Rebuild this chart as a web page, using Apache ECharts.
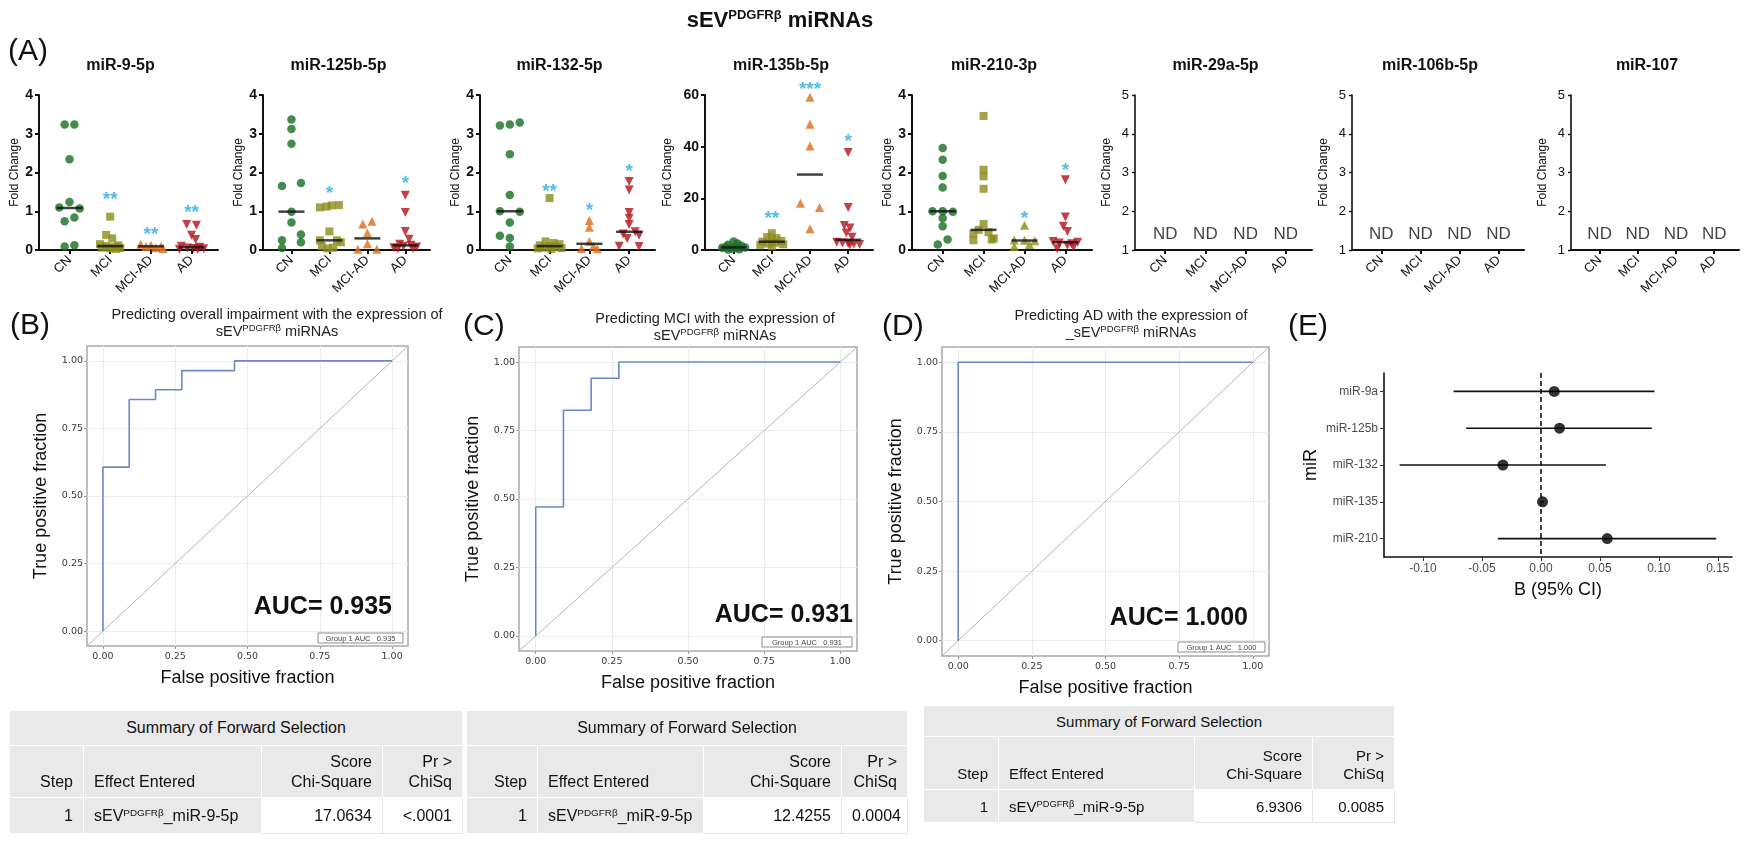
<!DOCTYPE html>
<html>
<head>
<meta charset="utf-8">
<script src="https://cdn.jsdelivr.net/npm/echarts@6.0.0/dist/echarts.min.js"></script>
<style>
body { margin: 0; background: #fff; overflow: hidden; }
#chart { position: absolute; left: 0; top: 0; width: 1744px; height: 842px; }
table.fs { position: absolute; border-collapse: collapse; table-layout: fixed; color: #111; border: 1px solid #dadada; }
table.fs td { background: #e9e9e9; border: 1px solid #fff; padding: 0 10px; white-space: nowrap; overflow: hidden; }
table.fs td.w { background: #fff; border-color: #e4e4e4; }
table.fs td.c { text-align: center; }
table.fs td.r { text-align: right; }
table.fs tr.hd td { vertical-align: bottom; padding-bottom: 5px; line-height: 1.25; }
table.fs sup { font-size: 62%; vertical-align: 0.55em; line-height: 0; }
</style>
</head>
<body>
<div id="chart"></div>
<script>
// ---------- data ----------
const groups = ['CN', 'MCI', 'MCI-AD', 'AD'];
const panelTitles = ['miR-9-5p', 'miR-125b-5p', 'miR-132-5p', 'miR-135b-5p', 'miR-210-3p', 'miR-29a-5p', 'miR-106b-5p', 'miR-107'];

// miR-9-5p
const mir9CN = [3.24, 3.24, 2.34, 1.24, 1.10, 1.07, 0.84, 0.74, 0.12, 0.09];
const mir9CNx = [-0.12, 0.12, 0, 0, -0.25, 0.25, 0.12, -0.12, 0.12, -0.12];
const mir9MCI = [0.86, 0.39, 0.30, 0.15, 0.12, 0.10, 0.08, 0.06, 0.05, 0.04, 0.03];
const mir9MCIx = [0, -0.1, 0.05, -0.25, 0.2, -0.1, 0.1, -0.2, 0.25, 0, 0.15];
const mir9MCIAD = [0.15, 0.12, 0.10, 0.09, 0.06, 0.04];
const mir9MCIADx = [-0.25, 0, 0.25, -0.12, 0.12, 0.3];
const mir9AD = [0.66, 0.64, 0.38, 0.27, 0.10, 0.07, 0.05, 0.04, 0.03, 0.02, 0.02];
const mir9ADx = [-0.12, 0.12, 0, 0.1, -0.25, 0.2, -0.1, 0.05, 0.3, -0.3, 0.15];
const mir9Stars = ['', '**', '**', '**'];
const mir9StarY = [0, 1.41, 0.5, 1.06];

// miR-125b-5p
const mir125CN = [3.37, 3.12, 2.74, 1.73, 1.65, 0.99, 0.71, 0.40, 0.25, 0.20, 0.05];
const mir125CNx = [0, 0, 0, 0.25, -0.25, 0, 0, 0.25, -0.25, 0.25, -0.25];
const mir125MCI = [1.16, 1.15, 1.12, 1.10, 0.48, 0.25, 0.25, 0.20, 0.10, 0.06, 0.04];
const mir125MCIx = [0.25, 0.06, -0.08, -0.25, 0, -0.25, 0.2, 0.3, -0.2, 0.1, -0.05];
const mir125MCIAD = [0.74, 0.67, 0.44, 0.16, 0.02, 0.02];
const mir125MCIADx = [0.12, -0.12, 0, 0, -0.25, 0.25];
const mir125AD = [1.41, 0.97, 0.48, 0.28, 0.15, 0.12, 0.10, 0.08, 0.06, 0.04, 0.03];
const mir125ADx = [0, 0, 0, 0.1, -0.15, 0.15, -0.05, 0.3, -0.3, 0.2, -0.2];
const mir125Stars = ['', '*', '', '*'];
const mir125StarY = [0, 1.55, 0, 1.81];

// miR-132-5p
const mir132CN = [3.29, 3.24, 3.21, 2.47, 1.42, 1.00, 0.99, 0.71, 0.37, 0.31, 0.09];
const mir132CNx = [0.25, 0, -0.25, 0, 0, -0.25, 0.25, 0, -0.25, 0, 0];
const mir132MCI = [1.34, 0.22, 0.18, 0.15, 0.12, 0.10, 0.08, 0.06, 0.05, 0.04, 0.03];
const mir132MCIx = [0, -0.1, 0.1, 0.25, -0.25, 0, 0.15, -0.15, 0.3, -0.3, 0.05];
const mir132MCIAD = [0.76, 0.59, 0.22, 0.10, 0.04, 0.03];
const mir132MCIADx = [0, 0, 0, 0.1, -0.2, 0.2];
const mir132AD = [1.77, 1.55, 0.97, 0.82, 0.66, 0.47, 0.41, 0.38, 0.30, 0.10, 0.09];
const mir132ADx = [0, 0, 0, 0, 0, 0.15, -0.15, 0.25, -0.05, -0.25, 0.25];
const mir132Stars = ['', '**', '*', '*'];
const mir132StarY = [0, 1.61, 1.12, 2.11];

// miR-135b-5p
const mir135CN = [3.3, 2.5, 2.0, 1.6, 1.2, 1.0, 0.9, 0.8, 0.5, 0.3, 0.2];
const mir135CNx = [0, 0.1, -0.15, 0.2, -0.2, 0.3, -0.3, 0.05, -0.05, 0.15, -0.15];
const mir135MCI = [6.5, 5.0, 4.6, 4.0, 3.5, 3.2, 2.8, 2.5, 2.2, 2.0, 1.5];
const mir135MCIx = [0, -0.12, 0.12, 0, 0.25, -0.25, 0.1, -0.1, 0.3, -0.3, 0];
const mir135MCIAD = [59.1, 48.7, 40.3, 18.1, 16.5, 8.2];
const mir135MCIADx = [0, 0, 0, -0.25, 0.25, 0];
const mir135AD = [37.7, 16.5, 9.5, 8.5, 6.6, 4.9, 3.0, 2.7, 2.5, 2.3, 2.1, 2.0];
const mir135ADx = [0, 0, -0.1, 0.05, -0.05, 0.1, -0.3, -0.15, 0, 0.15, 0.3, 0.05];
const mir135Stars = ['', '**', '***', '*'];
const mir135StarY = [0, 13.6, 63.4, 43.6];

// miR-210-3p
const mir210CN = [2.63, 2.33, 1.91, 1.61, 1.00, 1.00, 0.99, 0.82, 0.61, 0.27, 0.14];
const mir210CNx = [0, 0, 0, 0, -0.25, 0, 0.25, 0, 0, 0.12, -0.12];
const mir210MCI = [3.46, 2.07, 1.90, 1.58, 0.67, 0.52, 0.46, 0.42, 0.30, 0.27, 0.25];
const mir210MCIx = [0, 0, 0, 0, 0, -0.12, 0.12, -0.25, 0.25, 0.2, -0.25];
const mir210MCIAD = [0.64, 0.26, 0.25, 0.24, 0.14, 0.09];
const mir210MCIADx = [0, -0.25, 0, 0.25, 0.12, -0.25];
const mir210AD = [1.81, 0.85, 0.61, 0.48, 0.22, 0.20, 0.18, 0.16, 0.12, 0.08, 0.03];
const mir210ADx = [0, 0, -0.05, 0.05, -0.3, 0.3, -0.15, 0.15, 0.05, 0.2, -0.2];
const mir210Stars = ['', '', '*', '*'];
const mir210StarY = [0, 0, 0.91, 2.14];

// not detected panels
const ndLabels = ['ND', 'ND', 'ND', 'ND'];
const ndY = 1.41;

// ROC curves (corner points)
const rocB_fpr = [0, 0, 0.091, 0.182, 0.273, 0.455, 1];
const rocB_tpr = [0, 0.607, 0.857, 0.893, 0.964, 1, 1];
const rocC_fpr = [0, 0, 0.091, 0.182, 0.273, 1];
const rocC_tpr = [0, 0.471, 0.824, 0.941, 1, 1];
const rocD_fpr = [0, 0, 1];
const rocD_tpr = [0, 1, 1];
const aucValues = ['0.935', '0.931', '1.000'];
const rocTicks = [0, 0.25, 0.5, 0.75, 1];

// forest plot
const eLabels = ['miR-9a', 'miR-125b', 'miR-132', 'miR-135', 'miR-210'];
const eEst = [0.0113, 0.0158, -0.0322, 0.0014, 0.0562];
const eLow = [-0.074, -0.0633, -0.1198, 0.0004, -0.0365];
const eHigh = [0.0963, 0.094, 0.0551, 0.0024, 0.1486];
const eTicks = [-0.10, -0.05, 0, 0.05, 0.10, 0.15];

// forward selection tables
const fsSteps = ['1', '1', '1'];
const fsEffect = ['miR-9-5p', 'miR-9-5p', 'miR-9-5p'];
const fsScores = ['17.0634', '12.4255', '6.9306'];
const fsPvals = ['<.0001', '0.0004', '0.0085'];

// ---------- layout / style ----------
const FONT = 'Liberation Sans, Arial, sans-serif';
const colCN = '#166e20', colMCI = '#8a8c18', colMCIAD = '#dc6c1c', colAD = '#b41018', colStar = '#29abe2';
const aLeft = [39, 263, 480, 705, 912, 1135, 1352, 1571];
const aWidth = [179, 167, 175, 168, 180, 177, 172, 168];

const dotVals = [
  [mir9CN, mir9MCI, mir9MCIAD, mir9AD],
  [mir125CN, mir125MCI, mir125MCIAD, mir125AD],
  [mir132CN, mir132MCI, mir132MCIAD, mir132AD],
  [mir135CN, mir135MCI, mir135MCIAD, mir135AD],
  [mir210CN, mir210MCI, mir210MCIAD, mir210AD]
];
const dotDx = [
  [mir9CNx, mir9MCIx, mir9MCIADx, mir9ADx],
  [mir125CNx, mir125MCIx, mir125MCIADx, mir125ADx],
  [mir132CNx, mir132MCIx, mir132MCIADx, mir132ADx],
  [mir135CNx, mir135MCIx, mir135MCIADx, mir135ADx],
  [mir210CNx, mir210MCIx, mir210MCIADx, mir210ADx]
];
const starTxt = [mir9Stars, mir125Stars, mir132Stars, mir135Stars, mir210Stars];
const starY = [mir9StarY, mir125StarY, mir132StarY, mir135StarY, mir210StarY];
const dotColors = [
  [colCN, colMCI, colMCIAD, colAD],
  [colCN, colMCI, colMCIAD, colAD],
  [colCN, colMCI, colMCIAD, colAD],
  [colCN, colMCI, colMCIAD, colAD],
  [colCN, colMCI, colMCI, colAD]
];

function median(a) {
  const s = a.slice().sort((x, y) => x - y);
  const m = s.length >> 1;
  return s.length % 2 ? s[m] : (s[m - 1] + s[m]) / 2;
}

function txt(x, y, text, size, opts) {
  opts = opts || {};
  return {
    type: 'text', x: x, y: y, silent: true, z: 10,
    style: Object.assign({
      text: text, fontSize: size, fontFamily: FONT, fontWeight: opts.bold ? 'bold' : 'normal',
      fill: opts.color || '#111',
      align: opts.align || 'center', textAlign: opts.align || 'center',
      verticalAlign: 'middle', textVerticalAlign: 'middle'
    }, opts.rich ? { rich: opts.rich } : {})
  };
}

const grids = [], xAxes = [], yAxes = [], series = [], graphics = [];

// ---------- panel A ----------
for (let i = 0; i < 8; i++) {
  const nd = i >= 5;
  grids.push({ left: aLeft[i], top: 95, width: aWidth[i], height: 155, outerBoundsMode: 'none' });
  xAxes.push({
    gridIndex: i, type: 'value', min: -0.75, max: 3.65,
    axisLine: { show: true, onZero: false, lineStyle: { color: '#111', width: 2 } },
    axisTick: { show: true, length: 4, customValues: [0, 1, 2, 3], lineStyle: { color: '#111', width: 2 } },
    axisLabel: { customValues: [0, 1, 2, 3], formatter: v => groups[Math.round(v)], rotate: 45, fontSize: 13, color: '#111', margin: 8, fontFamily: FONT },
    splitLine: { show: false }
  });
  yAxes.push({
    gridIndex: i, type: 'value', min: nd ? 1 : 0, max: i === 3 ? 60 : (nd ? 5 : 4), interval: i === 3 ? 20 : 1,
    name: 'Fold Change', nameLocation: 'middle', nameGap: nd ? 22 : (i === 3 ? 31 : 18),
    nameTextStyle: { fontSize: 12, color: '#111', fontFamily: FONT },
    axisLine: { show: true, onZero: false, lineStyle: { color: '#111', width: nd ? 1.6 : 2 } },
    axisTick: { show: true, length: nd ? 3 : 4, lineStyle: { color: '#111', width: nd ? 1.4 : 2 } },
    axisLabel: { fontSize: nd ? 13 : 14, fontWeight: nd ? 'normal' : 'bold', color: '#111', margin: 6, fontFamily: FONT },
    splitLine: { show: false }
  });
  graphics.push(txt(aLeft[i] + aWidth[i] / 2 - 8, 66, panelTitles[i], 16, { bold: true }));

  if (!nd) {
    for (let g = 0; g < 4; g++) {
      const vals = dotVals[i][g];
      const dx = dotDx[i][g];
      series.push({
        type: 'scatter', xAxisIndex: i, yAxisIndex: i, silent: true, z: 2,
        symbol: g === 0 ? 'circle' : (g === 1 ? 'rect' : 'triangle'),
        symbolRotate: g === 3 ? 180 : 0,
        symbolSize: g === 0 ? 8.5 : (g === 1 ? 8 : 9),
        itemStyle: { color: dotColors[i][g] },
        data: vals.map((v, k) => [g + dx[k], v])
      });
      series.push({
        type: 'scatter', xAxisIndex: i, yAxisIndex: i, silent: true, z: 3,
        symbol: 'rect', symbolSize: [26, 2.5], itemStyle: { color: '#111' },
        data: [[g, median(vals)]]
      });
    }
    series.push({
      type: 'scatter', xAxisIndex: i, yAxisIndex: i, silent: true, clip: false, z: 4,
      symbolSize: 1, itemStyle: { color: 'rgba(0,0,0,0)' },
      label: { show: true, position: 'inside', formatter: q => q.name, color: colStar, fontSize: 19, fontWeight: 'bold', fontFamily: FONT, offset: [0, 4] },
      data: starTxt[i].map((t, g) => ({ name: t, value: [g, starY[i][g]] })).filter(d => d.name)
    });
  } else {
    series.push({
      type: 'scatter', xAxisIndex: i, yAxisIndex: i, silent: true, z: 4,
      symbolSize: 1, itemStyle: { color: 'rgba(0,0,0,0)' },
      label: { show: true, position: 'inside', formatter: q => q.name, color: '#111', fontSize: 17, fontFamily: FONT },
      data: ndLabels.map((t, g) => ({ name: t, value: [g, ndY] }))
    });
  }
}

// ---------- panels B, C, D (ROC) ----------
const rocGrids = [
  { left: 87, top: 346, width: 321, height: 300 },
  { left: 519, top: 347, width: 338, height: 304 },
  { left: 942, top: 347, width: 327, height: 309 }
];
const rocFpr = [rocB_fpr, rocC_fpr, rocD_fpr];
const rocTpr = [rocB_tpr, rocC_tpr, rocD_tpr];
const rocTitle1 = ['Predicting overall impairment with the expression of', 'Predicting MCI with the expression of', 'Predicting AD with the expression of'];
const rocTitle2 = ['{n|sEV}{s|PDGFRβ}{n| miRNAs}', '{n|sEV}{s|PDGFRβ}{n| miRNAs}', '{n|_sEV}{s|PDGFRβ}{n| miRNAs}'];
const rocTitleX = [277, 715, 1131];
const rocTitleY = [315, 319, 316];
const aucX = [392, 853, 1248];
const aucY = [607, 615, 618];
const legBox = [[318, 633, 85, 10], [762, 637, 90, 10], [1178, 642, 87, 10]];
const rocMin = -0.055, rocMax = 1.055;

for (let r = 0; r < 3; r++) {
  const gi = 8 + r;
  grids.push(Object.assign({ show: true, borderColor: '#a9a9a9', borderWidth: 1.5, backgroundColor: '#fff', outerBoundsMode: 'none' }, rocGrids[r]));
  const common = {
    gridIndex: gi, type: 'value', min: rocMin, max: rocMax,
    axisLine: { show: false, onZero: false },
    axisTick: { show: true, length: 3, customValues: rocTicks, lineStyle: { color: '#999' } },
    axisLabel: { customValues: rocTicks, formatter: v => v.toFixed(2), fontSize: 9.5, color: '#3a3a3a', fontFamily: 'DejaVu Sans, sans-serif' },
    splitLine: { show: true, lineStyle: { color: '#ebebeb', width: 1 } },
    nameLocation: 'middle', nameTextStyle: { fontSize: 18, color: '#111', fontFamily: FONT }
  };
  xAxes.push(Object.assign({}, common, { name: 'False positive fraction', nameGap: 23, axisLabel: Object.assign({}, common.axisLabel, { margin: 6 }) }));
  yAxes.push(Object.assign({}, common, { name: 'True positive fraction', nameGap: 37, axisLabel: Object.assign({}, common.axisLabel, { margin: 4 }) }));
  series.push({
    type: 'line', xAxisIndex: gi, yAxisIndex: gi, silent: true, symbol: 'none', z: 2,
    lineStyle: { color: '#b4b4b4', width: 1 },
    data: [[rocMin, rocMin], [rocMax, rocMax]]
  });
  series.push({
    type: 'line', name: 'Group 1 AUC ' + aucValues[r], xAxisIndex: gi, yAxisIndex: gi, silent: true,
    symbol: 'none', step: 'end', z: 3,
    lineStyle: { color: '#6d88c9', width: 1.6 },
    data: rocFpr[r].map((f, k) => [f, rocTpr[r][k]])
  });
  graphics.push(txt(rocTitleX[r], rocTitleY[r], rocTitle1[r], 14.5, { color: '#222' }));
  graphics.push(txt(rocTitleX[r], rocTitleY[r] + 17, rocTitle2[r], 14.5, {
    color: '#222',
    rich: { n: { fontSize: 14.5, fontFamily: FONT, color: '#222', lineHeight: 17 }, s: { fontSize: 9.5, fontFamily: FONT, color: '#222', verticalAlign: 'top', lineHeight: 17 } }
  }));
  graphics.push(txt(aucX[r], aucY[r], 'AUC= ' + aucValues[r], 25, { bold: true, align: 'right' }));
  const b = legBox[r];
  graphics.push({ type: 'rect', silent: true, z: 10, shape: { x: b[0], y: b[1], width: b[2], height: b[3] }, style: { fill: '#fff', stroke: '#8c8c8c', lineWidth: 1 } });
  graphics.push(txt(b[0] + b[2] / 2, b[1] + b[3] / 2 + 0.5, 'Group 1 AUC   ' + aucValues[r], 7.5, { color: '#444' }));
}

// ---------- panel E (forest) ----------
grids.push({ left: 1384, top: 373, width: 348, height: 184, outerBoundsMode: 'none' });
xAxes.push({
  gridIndex: 11, type: 'value', min: -0.133, max: 0.162,
  name: 'B (95% CI)', nameLocation: 'middle', nameGap: 24, nameTextStyle: { fontSize: 18, color: '#111', fontFamily: FONT },
  axisLine: { show: true, onZero: false, lineStyle: { color: '#111', width: 1.6 } },
  axisTick: { show: true, length: 4, customValues: eTicks, lineStyle: { color: '#333' } },
  axisLabel: { customValues: eTicks, formatter: v => v.toFixed(2), fontSize: 12, color: '#4d4d4d', margin: 6, fontFamily: FONT },
  splitLine: { show: false }
});
yAxes.push({
  gridIndex: 11, type: 'category', data: eLabels, inverse: true,
  name: 'miR', nameLocation: 'middle', nameGap: 64, nameTextStyle: { fontSize: 18, color: '#111', fontFamily: FONT },
  axisLine: { show: true, onZero: false, lineStyle: { color: '#111', width: 1.6 } },
  axisTick: { show: true, alignWithLabel: true, length: 4, lineStyle: { color: '#333' } },
  axisLabel: { fontSize: 12, color: '#4d4d4d', margin: 6, fontFamily: FONT },
  splitLine: { show: false }
});
series.push({
  type: 'custom', xAxisIndex: 11, yAxisIndex: 11, silent: true, z: 2,
  data: eLabels.map((n, i) => [eLow[i], eHigh[i], i]),
  encode: { x: [0, 1], y: 2 },
  renderItem: function (params, api) {
    const a = api.coord([api.value(0), api.value(2)]);
    const b = api.coord([api.value(1), api.value(2)]);
    return { type: 'line', shape: { x1: a[0], y1: a[1], x2: b[0], y2: b[1] }, style: { stroke: '#111', lineWidth: 1.6 } };
  }
});
series.push({
  type: 'scatter', xAxisIndex: 11, yAxisIndex: 11, silent: true, z: 3,
  symbolSize: 11, itemStyle: { color: '#000' },
  data: eEst.map((v, i) => [v, i]),
  markLine: {
    silent: true, symbol: ['none', 'none'], label: { show: false },
    lineStyle: { color: '#111', type: [5, 3], width: 1.6 },
    data: [{ xAxis: 0 }]
  }
});

// ---------- titles / panel letters ----------
graphics.push(txt(780, 21, '{a|sEV}{s|PDGFRβ}{a| miRNAs}', 22, {
  bold: true,
  rich: { a: { fontSize: 22, fontWeight: 'bold', fontFamily: FONT, color: '#111', lineHeight: 24 }, s: { fontSize: 13, fontWeight: 'bold', fontFamily: FONT, color: '#111', verticalAlign: 'top', lineHeight: 24 } }
}));
graphics.push(txt(8, 52, '(A)', 30, { align: 'left' }));
graphics.push(txt(10, 326, '(B)', 30, { align: 'left' }));
graphics.push(txt(463, 327, '(C)', 30, { align: 'left' }));
graphics.push(txt(882, 327, '(D)', 30, { align: 'left' }));
graphics.push(txt(1288, 327, '(E)', 30, { align: 'left' }));

const chart = echarts.init(document.getElementById('chart'), null, { renderer: 'canvas' });
chart.setOption({
  animation: false,
  backgroundColor: '#fff',
  textStyle: { fontFamily: FONT },
  grid: grids,
  xAxis: xAxes,
  yAxis: yAxes,
  series: series,
  graphic: { elements: graphics }
});

// ---------- forward selection tables ----------
const tblLeft = [9, 466, 923];
const tblTop = [710, 710, 705];
const tblCols = [[74, 178, 121, 80], [71, 166, 138, 66], [75, 196, 118, 82]];
const tblRows = [[35, 52, 36], [35, 52, 36], [31, 53, 33]];
const tblFont = ['16px "Liberation Sans Narrow", "Liberation Sans", Arial', '16px "Liberation Sans Narrow", "Liberation Sans", Arial', '15px "Liberation Sans", Arial'];

for (let t = 0; t < 3; t++) {
  const tb = document.createElement('table');
  tb.className = 'fs';
  tb.style.left = tblLeft[t] + 'px';
  tb.style.top = tblTop[t] + 'px';
  tb.style.font = tblFont[t];
  const w = tblCols[t].reduce((a, b) => a + b, 0);
  tb.style.width = w + 'px';
  const h = tblRows[t];
  tb.innerHTML =
    '<colgroup>' + tblCols[t].map(c => '<col style="width:' + c + 'px">').join('') + '</colgroup>' +
    '<tr style="height:' + h[0] + 'px"><td class="c" colspan="4">Summary of Forward Selection</td></tr>' +
    '<tr class="hd" style="height:' + h[1] + 'px"><td class="r">Step</td><td>Effect Entered</td>' +
    '<td class="r">Score<br>Chi-Square</td><td class="r">Pr &gt;<br>ChiSq</td></tr>' +
    '<tr style="height:' + h[2] + 'px"><td class="r">' + fsSteps[t] + '</td>' +
    '<td>sEV<sup>PDGFRβ</sup>_' + fsEffect[t] + '</td>' +
    '<td class="r w">' + fsScores[t] + '</td><td class="r w">' + fsPvals[t].replace('<', '&lt;') + '</td></tr>';
  document.body.appendChild(tb);
}
</script>
</body>
</html>
